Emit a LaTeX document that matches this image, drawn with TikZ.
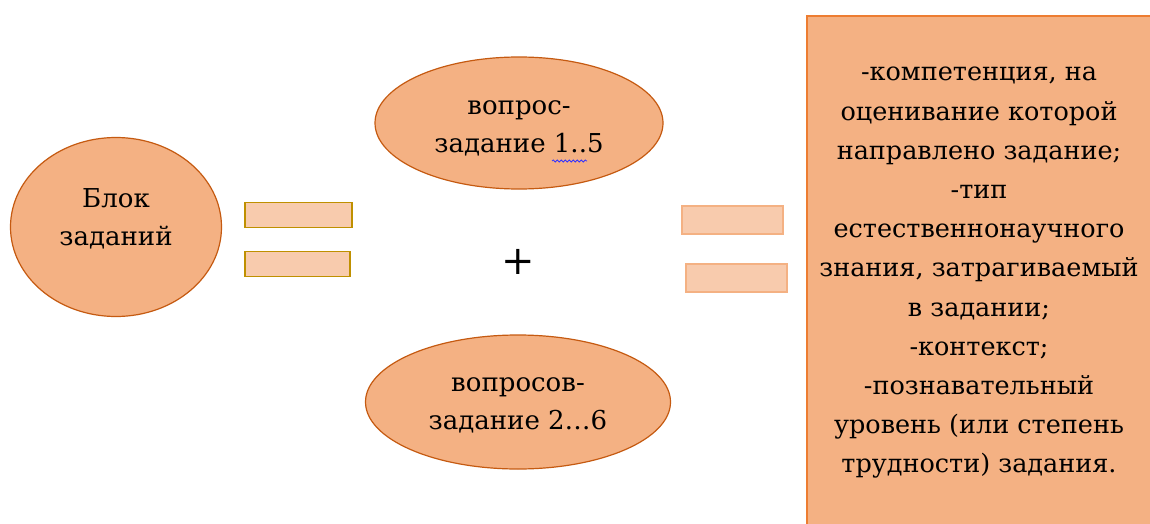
\documentclass[tikz,border=0pt]{standalone}
\usepackage{fontspec}
\setmainfont{DejaVu Serif}
\newfontfamily\tnr{DejaVu Serif}
\usetikzlibrary{shapes.geometric,decorations.pathmorphing}
\definecolor{fillA}{HTML}{F4B183}
\definecolor{edgeA}{HTML}{C55A11}
\definecolor{fillB}{HTML}{F8CBAD}
\definecolor{edgeGold}{HTML}{BF9000}
\definecolor{edgeBox}{HTML}{ED7D31}
\begin{document}
\begin{tikzpicture}[x=1pt,y=-1pt,
  bubble/.style={ellipse, draw=edgeA, line width=1.2pt, fill=fillA, inner sep=0pt},
  bubbletext/.style={align=center, inner sep=0pt, font=\tnr\fontsize{26}{38}\selectfont},
  goldbar/.style={rectangle, draw=edgeGold, line width=1.5pt, fill=fillB, inner sep=0pt,
    minimum width=107pt, minimum height=25pt},
  softbar/.style={rectangle, draw=fillA, line width=1.5pt, fill=fillB, inner sep=0pt,
    minimum width=101pt, minimum height=28pt},
  panel/.style={rectangle, draw=edgeBox, line width=2pt, fill=fillA, inner sep=0pt},
  paneltext/.style={align=center, inner sep=0pt, font=\tnr\fontsize{25.5}{39.2}\selectfont}
]
\useasboundingbox (0,0) rectangle (1150,524);
\fill[white] (0,0) rectangle (1150,524);

% right panel (cut off at right and bottom)
\node[panel, anchor=north west, minimum width=380pt, minimum height=560pt] (box) at (806,15) {};
\node[paneltext] (info) at (979,273) {-компетенция, на\\оценивание которой\\направлено задание;\\-тип\\естественнонаучного\\знания, затрагиваемый\\в задании;\\-контекст;\\-познавательный\\уровень (или степень\\трудности) задания.};

% ellipses
\node[bubble, minimum width=211pt, minimum height=179pt] (blok) at (116,227) {};
\node[bubbletext] (blokT) at (116,219) {Блок\\заданий};
\node[bubble, minimum width=288pt, minimum height=132pt] (q1) at (519,123) {};
\node[bubbletext] (q1T) at (519,128) {вопрос-\\задание 1..5};
\node[bubble, minimum width=305pt, minimum height=134pt] (q2) at (518,402) {};
\node[bubbletext] (q2T) at (518,405) {вопросов-\\задание 2…6};

% spell-check squiggle
\draw[blue!80!white, line width=0.8pt, decorate, decoration={snake, amplitude=1pt, segment length=4pt}] (552,161) -- (587,161);

% plus
\node[inner sep=0pt, font=\tnr\fontsize{40}{40}\selectfont] (plus) at (518,262) {+};

% equals signs
\node[goldbar] (e1) at (298.5,215) {};
\node[goldbar, minimum width=105pt] (e2) at (297.5,264) {};
\node[softbar] (f1) at (732.5,220) {};
\node[softbar] (f2) at (736.5,278) {};
\end{tikzpicture}
\end{document}
